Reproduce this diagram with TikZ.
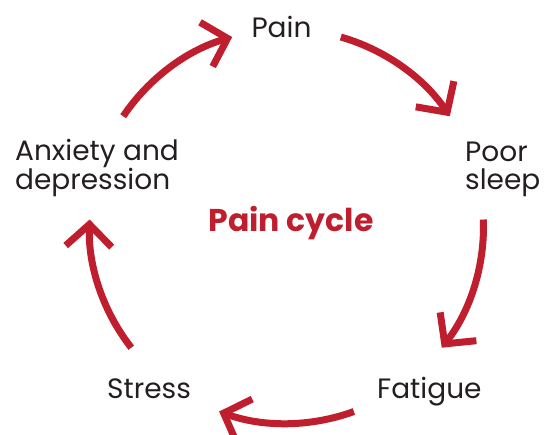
\documentclass[tikz,border=0pt]{standalone}
\usepackage{fontspec}
\setmainfont{Poppins}
\usepackage{tikz}
\usetikzlibrary{arrows.meta}
\definecolor{ink}      {HTML}{231F20}
\definecolor{cyclered} {HTML}{BE1E2D}
\tikzset{
  % --- nodes
  stage/.style     = {font=\fontsize{28}{28}\selectfont, text=ink, inner sep=0pt, align=left},
  cyclename/.style = {font=\bfseries\fontsize{31.5}{34}\selectfont, text=cyclered, inner sep=0pt},
  % --- arcs
  cyclearc/.style  = {line width=7pt, draw=cyclered,
                      -{Straight Barb[sharp, length=22pt, width=46pt]}},
}
\begin{document}
\begin{tikzpicture}[x=1pt,y=1pt]
  \useasboundingbox (0,0) rectangle (548,434);
  \coordinate (c) at (286.5,207.6);
  % arcs between the stages
  \foreach \a [evaluate=\a as \s using \a+20, evaluate=\a as \e using \a-20] in {54,-18,-90,-162,126}{
    \draw[cyclearc] ([shift={(\s:197)}]c) arc[start angle=\s, end angle=\e, radius=197];
  }
  % stages (base = last line)
  \node[stage, anchor=base]      (pain)    at (281.5,396) {Pain};
  \node[stage, anchor=base west] (sleep)   at (465,244)   {Poor\\sleep};
  \node[stage, anchor=base west] (fatigue) at (377,36)    {Fatigue};
  \node[stage, anchor=base west] (stress)  at (107,36)    {Stress};
  \node[stage, anchor=base west] (anxiety) at (15,244)    {Anxiety and\\depression};
  \node[cyclename, anchor=base]  (name)    at (291,202)   {Pain cycle};
\end{tikzpicture}
\end{document}
